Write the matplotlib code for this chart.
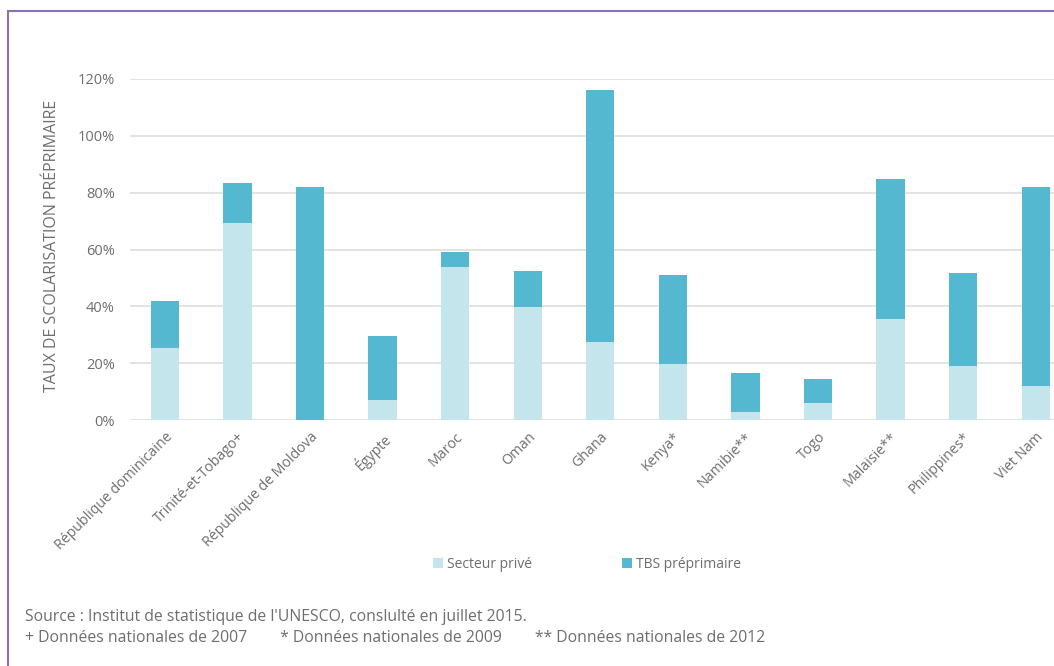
import numpy as np
import matplotlib
matplotlib.use("Agg")
import matplotlib.pyplot as plt
import matplotlib.patches as patches

plt.rcParams['font.family'] = ['Open Sans', 'DejaVu Sans']

# Data
pays = ["République dominicaine", "Trinité-et-Tobago+", "République de Moldova",
        "Égypte", "Maroc", "Oman", "Ghana", "Kenya*", "Namibie**", "Togo",
        "Malaisie**", "Philippines*", "Viet Nam"]
tbs = [41.9, 83.3, 82.0, 29.4, 59.1, 52.4, 116.1, 51.0, 16.4, 14.5, 84.7, 51.7, 82.0]
prive = [25.2, 69.2, 0.0, 7.2, 53.7, 39.8, 27.6, 19.6, 2.8, 6.0, 35.6, 19.0, 12.1]
yticks = [0, 20, 40, 60, 80, 100, 120]

dark = "#54b8d1"
light = "#c5e5ed"
grey = "#6d6e71"

fig = plt.figure(figsize=(10.54, 6.66), dpi=100, facecolor="white")

# Purple frame around the whole figure (clipped by the image edges)
frame = patches.Rectangle((8 / 1054, -0.05), 1.2, 1 - 11 / 666 + 0.05,
                          transform=fig.transFigure, facecolor="none",
                          edgecolor="#8a70b3", lw=1.5)
fig.patches.append(frame)

ax = fig.add_axes([130 / 1054, 1 - 420 / 666, (1072 - 130) / 1054, 341 / 666], frameon=False)

x = np.arange(len(pays))
ax.bar(x, tbs, width=0.39, color=dark, zorder=2, label="TBS préprimaire")
ax.bar(x, prive, width=0.39, color=light, zorder=3, label="Secteur privé")

ax.set_xlim(-0.48, len(pays) - 0.5)
ax.set_ylim(0, 120)
ax.set_yticks(yticks)
ax.set_yticklabels([f"{v}%" for v in yticks], color=grey, fontsize=10.5)
ax.yaxis.grid(True, color="#e0e0e0", lw=1.3, zorder=0)
ax.set_axisbelow(True)
ax.tick_params(axis="both", length=0, pad=11)

ax.set_xticks(x)
ax.set_xticklabels(pays, rotation=45, ha="right", rotation_mode="anchor",
                   color=grey, fontsize=10.2)
ax.tick_params(axis="x", pad=7)

fig.text(52 / 1054, 1 - 246 / 666, "TAUX DE SCOLARISATION PRÉPRIMAIRE",
         rotation=90, ha="center", va="center", color=grey, fontsize=11.5)

# Legend (private first)
h, l = ax.get_legend_handles_labels()
fig.legend(h[::-1], l[::-1], loc="center", bbox_to_anchor=(587 / 1054, 1 - 564 / 666),
           ncol=2, frameon=False, fontsize=10, labelcolor=grey,
           handlelength=0.7, handleheight=0.7, handletextpad=0.3, columnspacing=6.5)

fig.text(25 / 1054, 1 - 617 / 666,
         "Source : Institut de statistique de l'UNESCO, conslulté en juillet 2015.",
         color=grey, fontsize=11.3, va="center")
fig.text(25 / 1054, 1 - 638 / 666,
         "+ Données nationales de 2007        * Données nationales de 2009        ** Données nationales de 2012",
         color=grey, fontsize=11.3, va="center")

plt.savefig("out.png", dpi=100)
